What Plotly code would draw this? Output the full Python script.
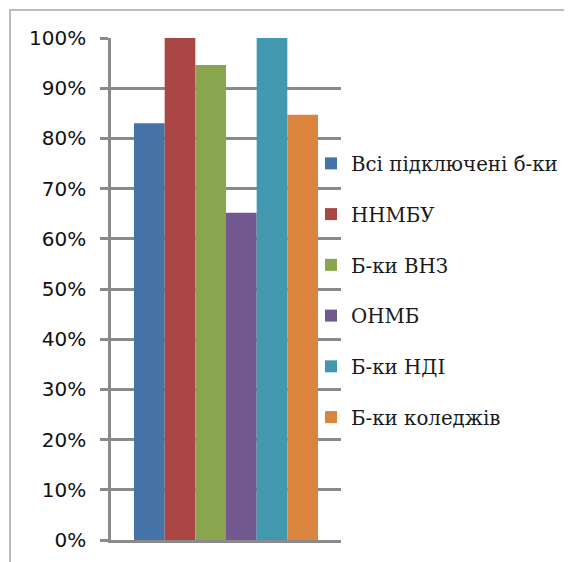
import plotly.graph_objects as go

series_names = ["Всі підключені б-ки", "ННМБУ", "Б-ки ВНЗ", "ОНМБ", "Б-ки НДІ", "Б-ки коледжів"]
series_values = [0.83, 1.00, 0.946, 0.652, 1.00, 0.847]
series_colors = ["#4572A7", "#AA4643", "#89A54E", "#71588F", "#4198AF", "#DB843D"]

# page body has an 8px default margin, so the figure is drawn offset by (8, 8)
OFF = 8
W, H = 572 - OFF, 562 - OFF
L, T = 111 - OFF, 38 - OFF
R = W - (341 - OFF)
B = H - (540 - OFF)

fig = go.Figure()
for i, (name, val, col) in enumerate(zip(series_names, series_values, series_colors)):
    fig.add_trace(go.Bar(
        x=[0], y=[val], name=name, marker=dict(color=col, line=dict(width=0)),
        legendgroup=f"g{i}",
    ))

grid_col = "#8a8a8a"
pw = W - L - R
ph = H - T - B
fig.update_layout(
    width=W, height=H,
    margin=dict(l=L, r=R, t=T, b=B, pad=0, autoexpand=False),
    paper_bgcolor="white", plot_bgcolor="white",
    barmode="group", bargap=0.2, bargroupgap=0,
    showlegend=True,
    legend=dict(
        x=(311 - OFF - L) / pw, xanchor="left",
        y=0.497, yanchor="middle",
        font=dict(family="DejaVu Serif", size=19.8, color="#1a1a1a"),
        traceorder="grouped", tracegroupgap=22,
        bgcolor="rgba(0,0,0,0)", borderwidth=0,
    ),
    xaxis=dict(
        range=[-0.5, 0.5], showticklabels=False, showgrid=False,
        showline=True, linecolor=grid_col, linewidth=2.5, zeroline=False, ticks="",
    ),
    yaxis=dict(
        range=[0, 1], dtick=0.1, tick0=0, tickformat=".0%",
        showgrid=True, gridcolor=grid_col, gridwidth=2.5,
        showline=True, linecolor=grid_col, linewidth=2.5, zeroline=False,
        ticks="outside", ticklen=8, tickwidth=2.5, tickcolor=grid_col,
        ticklabelstandoff=10,
        tickfont=dict(family="DejaVu Sans", size=20, color="#111111"),
    ),
)

fig.add_shape(
    type="rect", xref="paper", yref="paper",
    x0=(10 - OFF - L) / pw, x1=(W + 20 - L) / pw,
    y0=-(B + 20) / ph, y1=1 + (T - (10 - OFF)) / ph,
    line=dict(color="#a6a6a6", width=1.5), fillcolor="rgba(0,0,0,0)", layer="below",
)

fig.write_html("out.html")
